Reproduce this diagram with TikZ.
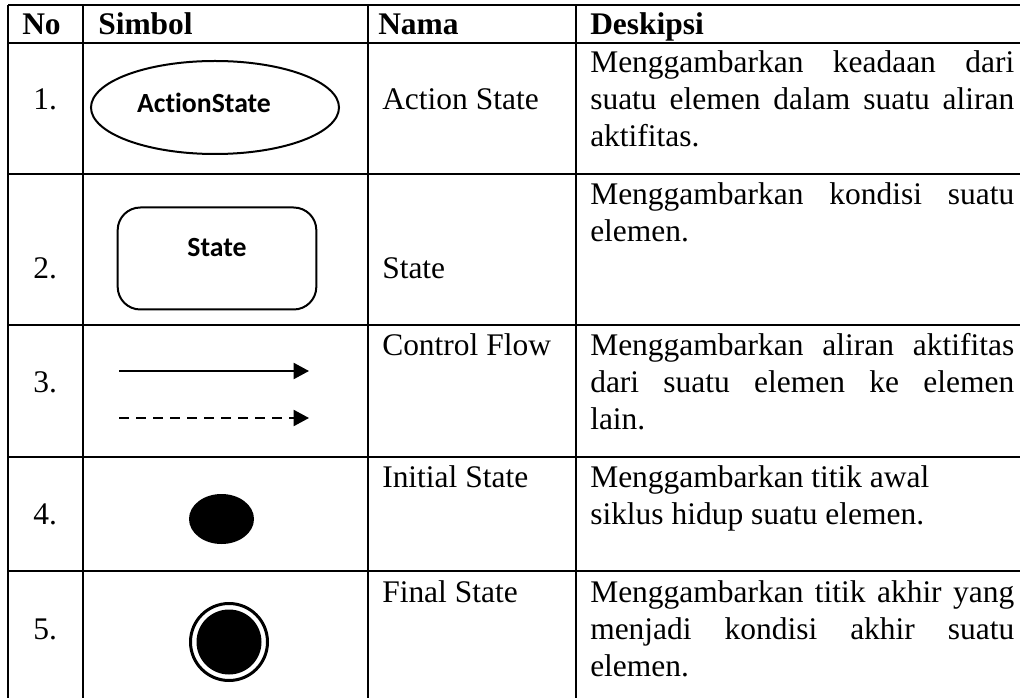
\documentclass[tikz,border=0pt]{standalone}
\usepackage{fontspec}
\setmainfont{Liberation Serif}
\newfontfamily\symfont[Ligatures=NoCommon]{Carlito}
\usetikzlibrary{arrows.meta,shapes.geometric}
\newcommand{\jline}[1]{\makebox[318pt][s]{#1}}
\begin{document}
\begin{tikzpicture}[x=0.75pt,y=-0.75pt,
  grid/.style={line width=1.6pt},
  txt/.style={inner sep=0pt, anchor=base west, font=\fontsize{23.6pt}{28pt}\selectfont},
  hdr/.style={inner sep=0pt, anchor=base west, font=\fontsize{23.6pt}{28pt}\selectfont\bfseries},
  symtxt/.style={inner sep=0pt, anchor=base, font=\symfont\bfseries\fontsize{20.8pt}{25pt}\selectfont},
  flow/.style={line width=1.5pt, -{Triangle[length=11.5pt,width=12pt]}},
  symline/.style={draw, line width=1.5pt, inner sep=0pt},
]
\useasboundingbox (0,0) rectangle (1020,698);
\clip (0,0) rectangle (1020,698);
\fill[white] (0,0) rectangle (1020,698);
% grid
\foreach \yy in {5,43,174,325,457,571}
  \draw[grid] (8,\yy) -- (1040,\yy);
\foreach \xx in {8,83,368,576}
  \draw[grid] (\xx,5) -- (\xx,720);
% header
\node[hdr] (hno) at (22,35) {No};
\node[hdr] (hsim) at (98,35) {Simbol};
\node[hdr] (hnama) at (378,35) {Nama};
\node[hdr] (hdesk) at (590,35) {Deskipsi};
% row 1
\node[txt] (n1) at (33,110) {1.};
\node[symline, ellipse, minimum width=186pt, minimum height=69.75pt] (as) at (215,107.5) {};
\node[symtxt] (astxt) at (204,113) {ActionState};
\node[txt] (nm1) at (382,110) {Action State};
\node[txt] (d1a) at (590,73) {\jline{Menggambarkan keadaan dari}};
\node[txt] (d1b) at (590,110) {\jline{suatu elemen dalam suatu aliran}};
\node[txt] (d1c) at (590,147) {aktifitas.};
% row 2
\node[txt] (n2) at (33,279) {2.};
\node[symline, rectangle, rounded corners=17pt, minimum width=149pt, minimum height=76.5pt] (st) at (217,258.5) {};
\node[symtxt] (sttxt) at (217,257) {State};
\node[txt] (nm2) at (382,279) {State};
\node[txt] (d2a) at (590,205) {\jline{Menggambarkan kondisi suatu}};
\node[txt] (d2b) at (590,242) {elemen.};
% row 3
\node[txt] (n3) at (33,392) {3.};
\coordinate (f1s) at (119,371);
\coordinate (f1e) at (309,371);
\coordinate (f2s) at (119,418);
\coordinate (f2e) at (309,418);
\draw[flow] (f1s) -- (f1e);
\draw[flow, dash pattern=on 7.5pt off 5.25pt] (f2s) -- (f2e);
\node[txt] (nm3) at (382,355) {Control Flow};
\node[txt] (d3a) at (590,355) {\jline{Menggambarkan aliran aktifitas}};
\node[txt] (d3b) at (590,392) {\jline{dari suatu elemen ke elemen}};
\node[txt] (d3c) at (590,429) {lain.};
% row 4
\node[txt] (n4) at (33,524) {4.};
\node[ellipse, fill=black, inner sep=0pt, minimum width=48.75pt, minimum height=37.5pt] (init) at (221.5,519) {};
\node[txt] (nm4) at (382,487) {Initial State};
\node[txt] (d4a) at (590,487) {Menggambarkan titik awal};
\node[txt] (d4b) at (590,524) {siklus hidup suatu elemen.};
% row 5
\node[txt] (n5) at (33,639) {5.};
\node[circle, draw, line width=2.25pt, inner sep=0pt, minimum size=57.75pt] (fin) at (229,642) {};
\node[circle, fill=black, inner sep=0pt, minimum size=48.75pt] (fincore) at (fin.center) {};
\node[txt] (nm5) at (382,602) {Final State};
\node[txt] (d5a) at (590,602) {\jline{Menggambarkan titik akhir yang}};
\node[txt] (d5b) at (590,639) {\jline{menjadi kondisi akhir suatu}};
\node[txt] (d5c) at (590,676) {elemen.};
\end{tikzpicture}
\end{document}
